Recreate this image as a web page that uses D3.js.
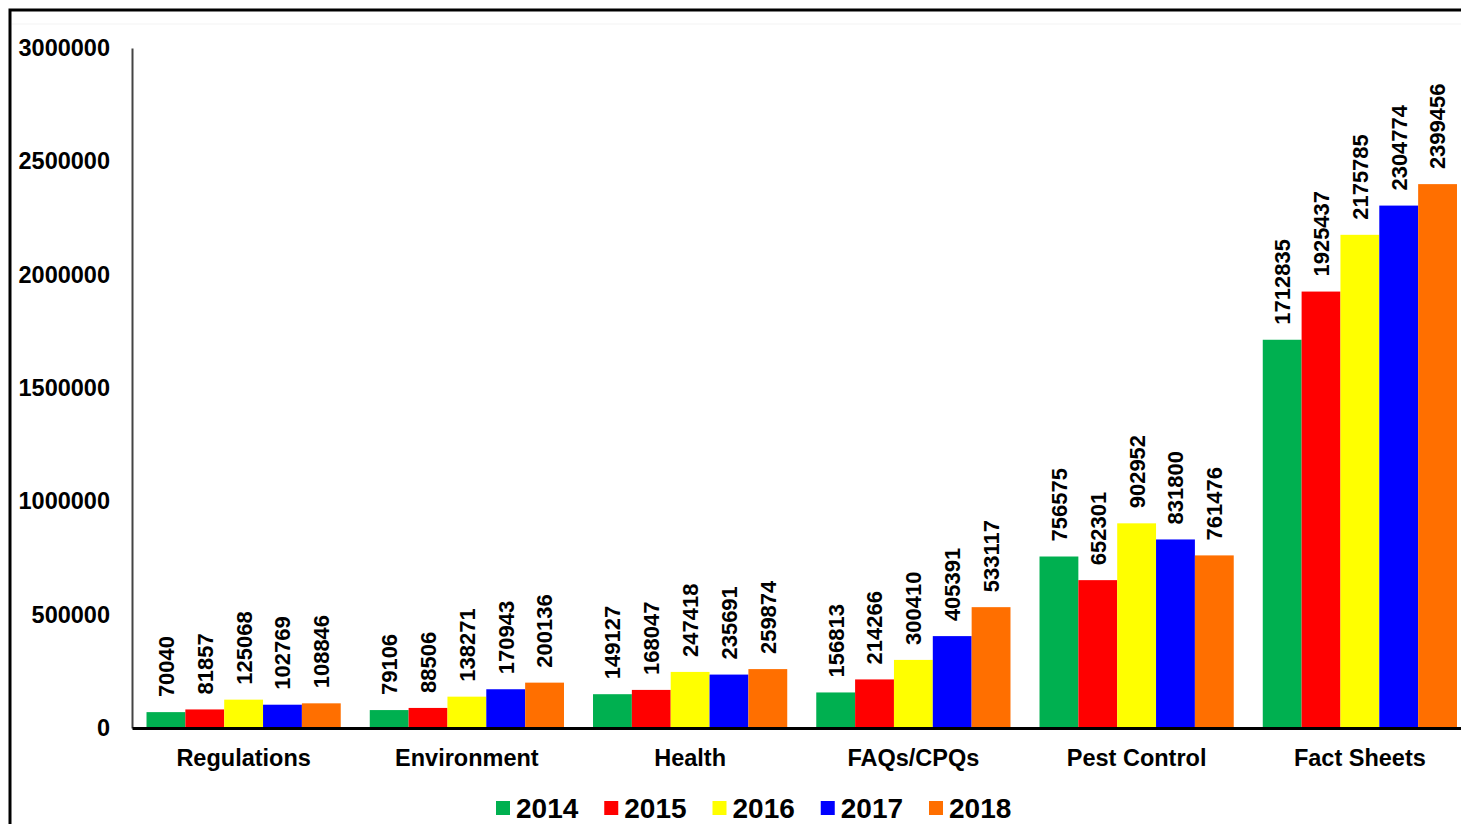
<!DOCTYPE html>
<html>
<head>
<meta charset="utf-8">
<script src="https://cdn.jsdelivr.net/npm/d3@7"></script>
<style>
  html, body { margin: 0; padding: 0; background: #fff; }
  svg { display: block; }
  text { font-family: Arial, "Liberation Sans", sans-serif; font-weight: bold; fill: #000; }
</style>
</head>
<body>
<svg id="chart" width="1461" height="824"></svg>
<script>
const categories = ["Regulations", "Environment", "Health", "FAQs/CPQs", "Pest Control", "Fact Sheets"];
const years = ["2014", "2015", "2016", "2017", "2018"];
const values2014 = [70040, 79106, 149127, 156813, 756575, 1712835];
const values2015 = [81857, 88506, 168047, 214266, 652301, 1925437];
const values2016 = [125068, 138271, 247418, 300410, 902952, 2175785];
const values2017 = [102769, 170943, 235691, 405391, 831800, 2304774];
const values2018 = [108846, 200136, 259874, 533117, 761476, 2399456];
const yTicks = [0, 500000, 1000000, 1500000, 2000000, 2500000, 3000000];
const colors = ["#00B050", "#FF0000", "#FFFF00", "#0000FF", "#FF6F00"];

const series = [values2014, values2015, values2016, values2017, values2018];

const svg = d3.select("#chart");

// outer border
svg.append("rect").attr("x", 10).attr("y", 10).attr("width", 1470).attr("height", 830)
  .attr("fill", "none").attr("stroke", "#000").attr("stroke-width", 3);
// faint plot-area edge
svg.append("line").attr("x1", 12).attr("x2", 1461).attr("y1", 24).attr("y2", 24)
  .attr("stroke", "#f3f3f3").attr("stroke-width", 1);

const x0 = d3.scaleBand().domain(categories).range([132, 1471.5]).paddingInner(0.13).paddingOuter(0.065);
const x1 = d3.scaleBand().domain(years).range([0, x0.bandwidth()]).padding(0);
const y = d3.scaleLinear().domain([0, 3000000]).range([728, 48]);

// y tick labels
const yAxis = d3.axisLeft(y).tickValues(yTicks).tickSize(0).tickPadding(22).tickFormat(d3.format("d"));
const gy = svg.append("g").attr("transform", "translate(132,0)").call(yAxis);
gy.select(".domain").attr("stroke", "#444").attr("stroke-width", 2);
gy.selectAll("text").style("font-size", "23.5px").style("font-family", "Arial, 'Liberation Sans', sans-serif").style("font-weight", "bold").attr("fill", "#000");

// bars
const groups = svg.append("g").selectAll("g").data(categories).join("g")
  .attr("transform", d => `translate(${x0(d)},0)`);

groups.each(function(cat, ci) {
  const g = d3.select(this);
  const rows = years.map((yr, si) => ({ yr, si, v: series[si][ci] }));
  g.selectAll("rect").data(rows).join("rect")
    .attr("x", d => x1(d.yr))
    .attr("y", d => y(d.v))
    .attr("width", x1.bandwidth())
    .attr("height", d => y(0) - y(d.v))
    .attr("fill", d => colors[d.si]);
  g.selectAll("text.lbl").data(rows).join("text")
    .attr("class", "lbl")
    .attr("transform", d => `translate(${x1(d.yr) + x1.bandwidth() / 2},${y(d.v) - 15}) rotate(-90)`)
    .attr("text-anchor", "start")
    .attr("dy", "0.36em")
    .style("font-size", "22px")
    .text(d => d.v);
});

// x axis
const xAxis = d3.axisBottom(x0).tickSize(0).tickPadding(21);
const gx = svg.append("g").attr("transform", "translate(0,728)").call(xAxis);
gx.select(".domain").attr("stroke", "#000").attr("stroke-width", 3);
gx.selectAll("text").style("font-size", "23.5px").style("font-family", "Arial, 'Liberation Sans', sans-serif").style("font-weight", "bold").attr("fill", "#000");

// legend
const legendX = d3.scalePoint().domain(years).range([496, 929]);
const lg = svg.append("g").selectAll("g").data(years).join("g")
  .attr("transform", d => `translate(${legendX(d)},0)`);
lg.append("rect").attr("x", 0).attr("y", 801).attr("width", 14).attr("height", 14)
  .attr("fill", (d, i) => colors[i]);
lg.append("text").attr("x", 20).attr("y", 818).style("font-size", "28px").text(d => d);
</script>
</body>
</html>
